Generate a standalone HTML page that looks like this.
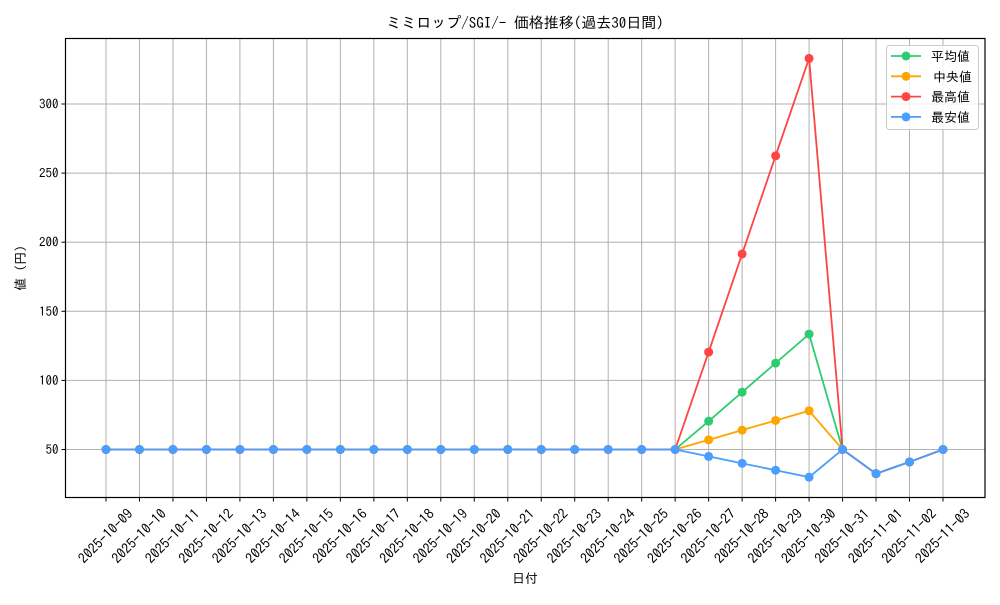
<!DOCTYPE html>
<html><head><meta charset="utf-8"><style>
html,body{margin:0;padding:0;background:#fff;}
svg text{font-family:"IPAGothic","Noto Sans CJK JP",sans-serif;fill:#000;}
</style></head><body>
<svg id="c" width="1000" height="600" xmlns="http://www.w3.org/2000/svg"></svg>
<script>
const s=document.getElementById('c');
let h='';
const L=65.5,R=985,T=38.5,B=497.5;
const X=i=>106+i*(943-106)/25;
const Y=v=>449.5-(v-50)*(345.5/250);
const dates=[];
for(let d=9;d<=31;d++)dates.push('2025-10-'+String(d).padStart(2,'0'));
for(let d=1;d<=3;d++)dates.push('2025-11-0'+d);
for(let i=0;i<26;i++){h+=`<line x1="${X(i)}" y1="${T}" x2="${X(i)}" y2="${B}" stroke="#b0b0b0" stroke-width="1"/>`;
h+=`<line x1="${X(i)}" y1="${B}" x2="${X(i)}" y2="${B+4}" stroke="#000"/>`;
h+=`<text transform="translate(${X(i)+3},${B+42}) rotate(-45)" text-anchor="middle" font-size="14">${dates[i]}</text>`;}
for(let v=50;v<=300;v+=50){const y=Y(v);h+=`<line x1="${L}" y1="${y}" x2="${R}" y2="${y}" stroke="#b0b0b0"/>`;
h+=`<line x1="${L-4}" y1="${y}" x2="${L}" y2="${y}" stroke="#000"/>`;
h+=`<text x="${L-7}" y="${y+4.5}" text-anchor="end" font-size="13">${v}</text>`;}
const base=Array(18).fill(50);
const ser=[
['#2ecc71',base.concat([70.5,91.5,112.5,133.5,50,32.5,41,50])],
['#ffa500',base.concat([57,64,71,78,50,32.5,41,50])],
['#ff4444',base.concat([120.5,191.5,262.5,333,50,32.5,41,50])],
['#4a9eff',base.concat([45,40,35,30,50,32.5,41,50])]];
for(const [c,d] of ser){h+=`<polyline fill="none" stroke="${c}" stroke-width="1.8" points="${d.map((v,i)=>X(i)+','+Y(v)).join(' ')}"/>`;
d.forEach((v,i)=>h+=`<circle cx="${X(i)}" cy="${Y(v)}" r="4.5" fill="${c}"/>`);}
h+=`<rect x="${L}" y="${T}" width="${R-L}" height="${B-T}" fill="none" stroke="#000" stroke-width="1.2"/>`;
h+=`<text x="525" y="28" text-anchor="middle" font-size="15">ミミロップ/SGI/- 価格推移(過去30日間)</text>`;
h+=`<text x="525" y="583" text-anchor="middle" font-size="13">日付</text>`;
h+=`<text transform="translate(25,268) rotate(-90)" text-anchor="middle" font-size="13">値 (円)</text>`;
h+=`<rect x="886.5" y="45.5" width="92" height="84" rx="3" fill="#fff" fill-opacity="0.8" stroke="#ccc"/>`;
const names=['平均値','中央値','最高値','最安値'];
ser.forEach(([c],i)=>{const y=56+i*20.3;h+=`<line x1="891" y1="${y}" x2="921" y2="${y}" stroke="${c}" stroke-width="1.8"/><circle cx="906" cy="${y}" r="4.5" fill="${c}"/><text x="${i==1?933:931}" y="${y+5}" font-size="13">${names[i]}</text>`;});
s.innerHTML=h;
</script>
</body></html>
